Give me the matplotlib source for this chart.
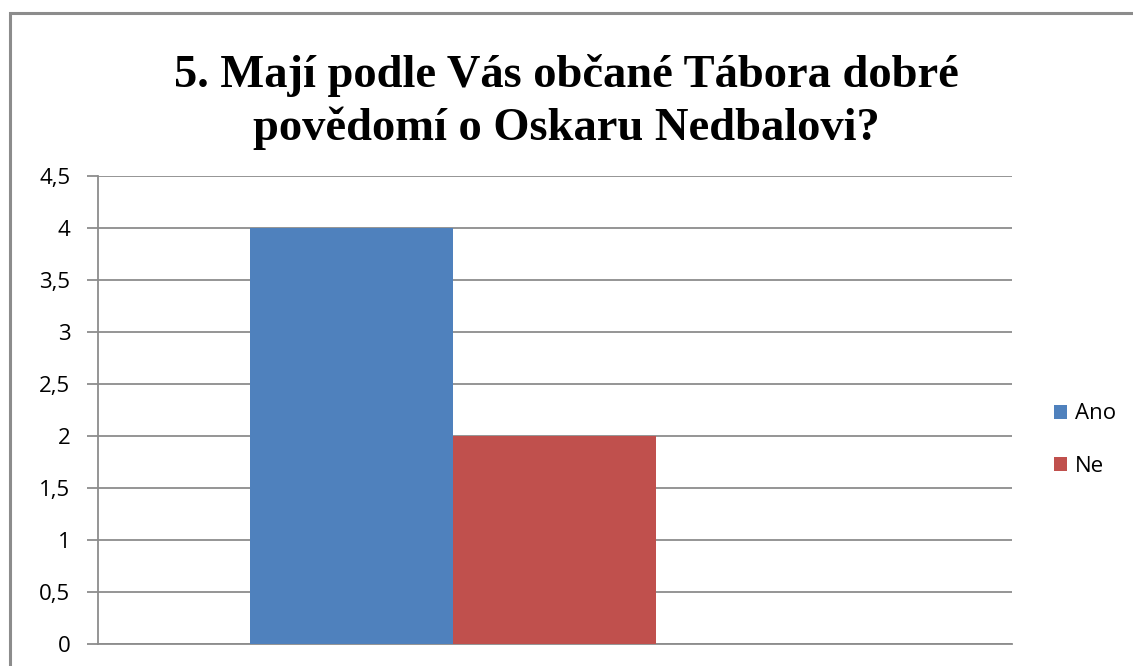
import matplotlib.pyplot as plt
import matplotlib.patches as patches
from matplotlib.ticker import FuncFormatter

title = "5. Mají podle Vás občané Tábora dobré\npovědomí o Oskaru Nedbalovi?"
series = ["Ano", "Ne"]
values = [4, 2]
colors = ["#4F81BD", "#C0504D"]
yticks = [0, 0.5, 1, 1.5, 2, 2.5, 3, 3.5, 4, 4.5]

W, H = 1133, 666
fig = plt.figure(figsize=(W / 100, H / 100), dpi=100)

# outer chart border (right/bottom run off the picture)
fig.patches.append(patches.Rectangle((10 / W, -0.05), 1.2, 1 - 13 / H + 0.05,
                                     transform=fig.transFigure, fill=False,
                                     edgecolor="#8c8c8c", linewidth=2.2))

ax = fig.add_axes([98 / W, 1 - 644 / H, (1012 - 98) / W, (644 - 176) / H])

for i, (name, v) in enumerate(zip(series, values)):
    ax.bar(i, v, width=1.0, color=colors[i], label=name, zorder=3)

ax.set_xlim(-1.249, 3.254)
ax.set_ylim(0, 4.5)
ax.set_yticks(yticks)
ax.yaxis.set_major_formatter(FuncFormatter(lambda v, p: f"{v:g}".replace(".", ",")))
ax.set_xticks([])
ax.grid(axis="y", color="#8c8c8c", linewidth=1.3, zorder=0)
for s in ["top", "right"]:
    ax.spines[s].set_visible(False)
for s in ["left", "bottom"]:
    ax.spines[s].set_color("#8c8c8c")
    ax.spines[s].set_linewidth(1.3)
ax.tick_params(axis="y", length=8, width=1.3, color="#8c8c8c",
               labelsize=16, pad=12)
for lab in ax.get_yticklabels():
    lab.set_fontfamily("Open Sans")

fig.text(0.5, 1 - 102 / H, title, ha="center", va="center",
         family="Liberation Serif", fontweight="bold", fontsize=33.5,
         linespacing=1.3)

leg = fig.legend(loc="center left",
                 bbox_to_anchor=(1034 / W, 1 - 440 / H), frameon=False,
                 prop={"family": "Open Sans", "size": 16},
                 handlelength=0.6, handleheight=0.6, handletextpad=0.35,
                 labelspacing=1.4)

fig.savefig("out.png", dpi=100)
